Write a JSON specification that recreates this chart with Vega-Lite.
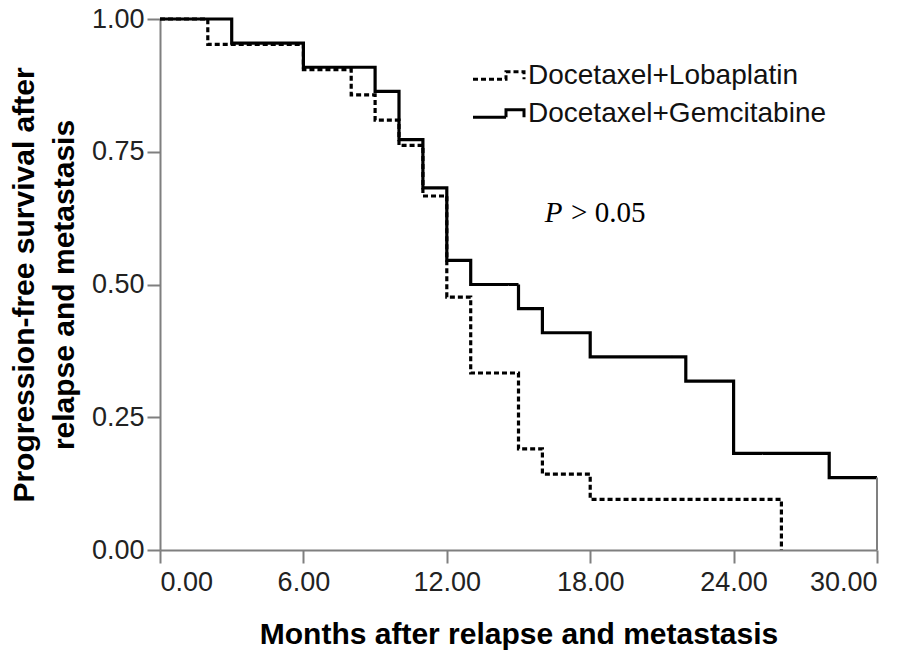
{
  "$schema": "https://vega.github.io/schema/vega-lite/v6.json",
  "width": 717,
  "height": 531,
  "autosize": "none",
  "padding": {"left": 160, "top": 19, "right": 34, "bottom": 102},
  "background": "white",
  "config": {
    "view": {"stroke": null},
    "font": "Liberation Sans"
  },
  "datasets": {
    "km": [
      {"group": "Docetaxel+Gemcitabine", "month": 0, "survival": 1.0},
      {"group": "Docetaxel+Gemcitabine", "month": 3, "survival": 0.9545},
      {"group": "Docetaxel+Gemcitabine", "month": 6, "survival": 0.9091},
      {"group": "Docetaxel+Gemcitabine", "month": 9, "survival": 0.8636},
      {"group": "Docetaxel+Gemcitabine", "month": 10, "survival": 0.7727},
      {"group": "Docetaxel+Gemcitabine", "month": 11, "survival": 0.6818},
      {"group": "Docetaxel+Gemcitabine", "month": 12, "survival": 0.5455},
      {"group": "Docetaxel+Gemcitabine", "month": 13, "survival": 0.5},
      {"group": "Docetaxel+Gemcitabine", "month": 15, "survival": 0.4545},
      {"group": "Docetaxel+Gemcitabine", "month": 16, "survival": 0.4091},
      {"group": "Docetaxel+Gemcitabine", "month": 18, "survival": 0.3636},
      {"group": "Docetaxel+Gemcitabine", "month": 22, "survival": 0.3182},
      {"group": "Docetaxel+Gemcitabine", "month": 24, "survival": 0.1818},
      {"group": "Docetaxel+Gemcitabine", "month": 28, "survival": 0.1364},
      {"group": "Docetaxel+Gemcitabine", "month": 30, "survival": 0.1364},
      {"group": "Docetaxel+Lobaplatin", "month": 0, "survival": 1.0},
      {"group": "Docetaxel+Lobaplatin", "month": 2, "survival": 0.9524},
      {"group": "Docetaxel+Lobaplatin", "month": 6, "survival": 0.9048},
      {"group": "Docetaxel+Lobaplatin", "month": 8, "survival": 0.8571},
      {"group": "Docetaxel+Lobaplatin", "month": 9, "survival": 0.8095},
      {"group": "Docetaxel+Lobaplatin", "month": 10, "survival": 0.7619},
      {"group": "Docetaxel+Lobaplatin", "month": 11, "survival": 0.6667},
      {"group": "Docetaxel+Lobaplatin", "month": 12, "survival": 0.4762},
      {"group": "Docetaxel+Lobaplatin", "month": 13, "survival": 0.3333},
      {"group": "Docetaxel+Lobaplatin", "month": 15, "survival": 0.1905},
      {"group": "Docetaxel+Lobaplatin", "month": 16, "survival": 0.1429},
      {"group": "Docetaxel+Lobaplatin", "month": 18, "survival": 0.0952},
      {"group": "Docetaxel+Lobaplatin", "month": 26, "survival": 0.0}
    ]
  },
  "layer": [
    {
      "data": {"name": "km"},
      "mark": {"type": "line", "interpolate": "step-after", "color": "black", "strokeWidth": 3.2},
      "encoding": {
        "x": {
          "field": "month", "type": "quantitative",
          "scale": {"domain": [0, 30], "nice": false, "zero": false},
          "axis": {
            "values": [0, 6, 12, 18, 24, 30], "format": ".2f", "grid": false,
            "labelFont": "Liberation Sans", "labelFontSize": 27, "labelColor": "#222",
            "labelPadding": 6, "tickSize": 13, "tickWidth": 2, "tickColor": "#7f7f7f",
            "domainColor": "#7f7f7f", "domainWidth": 2,
            "title": "Months after relapse and metastasis",
            "titleFont": "Liberation Sans", "titleFontSize": 30, "titleFontWeight": "bold",
            "titleColor": "black", "titlePadding": 24
          }
        },
        "y": {
          "field": "survival", "type": "quantitative",
          "scale": {"domain": [0, 1], "nice": false},
          "axis": {
            "values": [0, 0.25, 0.5, 0.75, 1], "format": ".2f", "grid": false,
            "labelFont": "Liberation Sans", "labelFontSize": 27, "labelColor": "#222",
            "labelPadding": 3, "tickSize": 13, "tickWidth": 2, "tickColor": "#7f7f7f",
            "domainColor": "#7f7f7f", "domainWidth": 2,
            "title": ["Progression-free survival after", "relapse and metastasis"],
            "titleFont": "Liberation Sans", "titleFontSize": 30, "titleFontWeight": "bold",
            "titleColor": "black", "titleLineHeight": 40, "titlePadding": 12
          }
        },
        "strokeDash": {
          "field": "group", "type": "nominal",
          "scale": {
            "domain": ["Docetaxel+Lobaplatin", "Docetaxel+Gemcitabine"],
            "range": [[5, 3], [1, 0]]
          },
          "legend": {
            "orient": "none", "legendX": 322, "legendY": 40, "title": null,
            "padding": 0, "rowPadding": 7,
            "symbolType": "M-1.7,0.25H0.5V-0.25H1.7V0.25",
            "symbolSize": 900, "symbolStrokeWidth": 3, "symbolStrokeColor": "black",
            "symbolFillColor": "transparent",
            "labelFont": "Liberation Sans", "labelFontSize": 28, "labelColor": "#111",
            "labelOffset": 13, "labelLimit": 500
          }
        }
      }
    },
    {
      "data": {"values": [{"note": "censor end"}]},
      "mark": {"type": "rule", "color": "#808080", "strokeWidth": 2},
      "encoding": {
        "x": {"datum": 30, "type": "quantitative"},
        "y": {"datum": 0, "type": "quantitative"},
        "y2": {"datum": 0.1364}
      }
    },
    {
      "data": {"values": [{"note": "P"}]},
      "mark": {"type": "text", "font": "Liberation Serif", "fontStyle": "italic", "fontSize": 29, "align": "left", "baseline": "alphabetic", "color": "black"},
      "encoding": {
        "text": {"field": "note"},
        "x": {"datum": 16.1, "type": "quantitative"},
        "y": {"datum": 0.618, "type": "quantitative"}
      }
    },
    {
      "data": {"values": [{"note": "> 0.05"}]},
      "mark": {"type": "text", "font": "Liberation Serif", "fontSize": 29, "align": "left", "baseline": "alphabetic", "color": "black"},
      "encoding": {
        "text": {"field": "note"},
        "x": {"datum": 17.2, "type": "quantitative"},
        "y": {"datum": 0.618, "type": "quantitative"}
      }
    }
  ]
}
